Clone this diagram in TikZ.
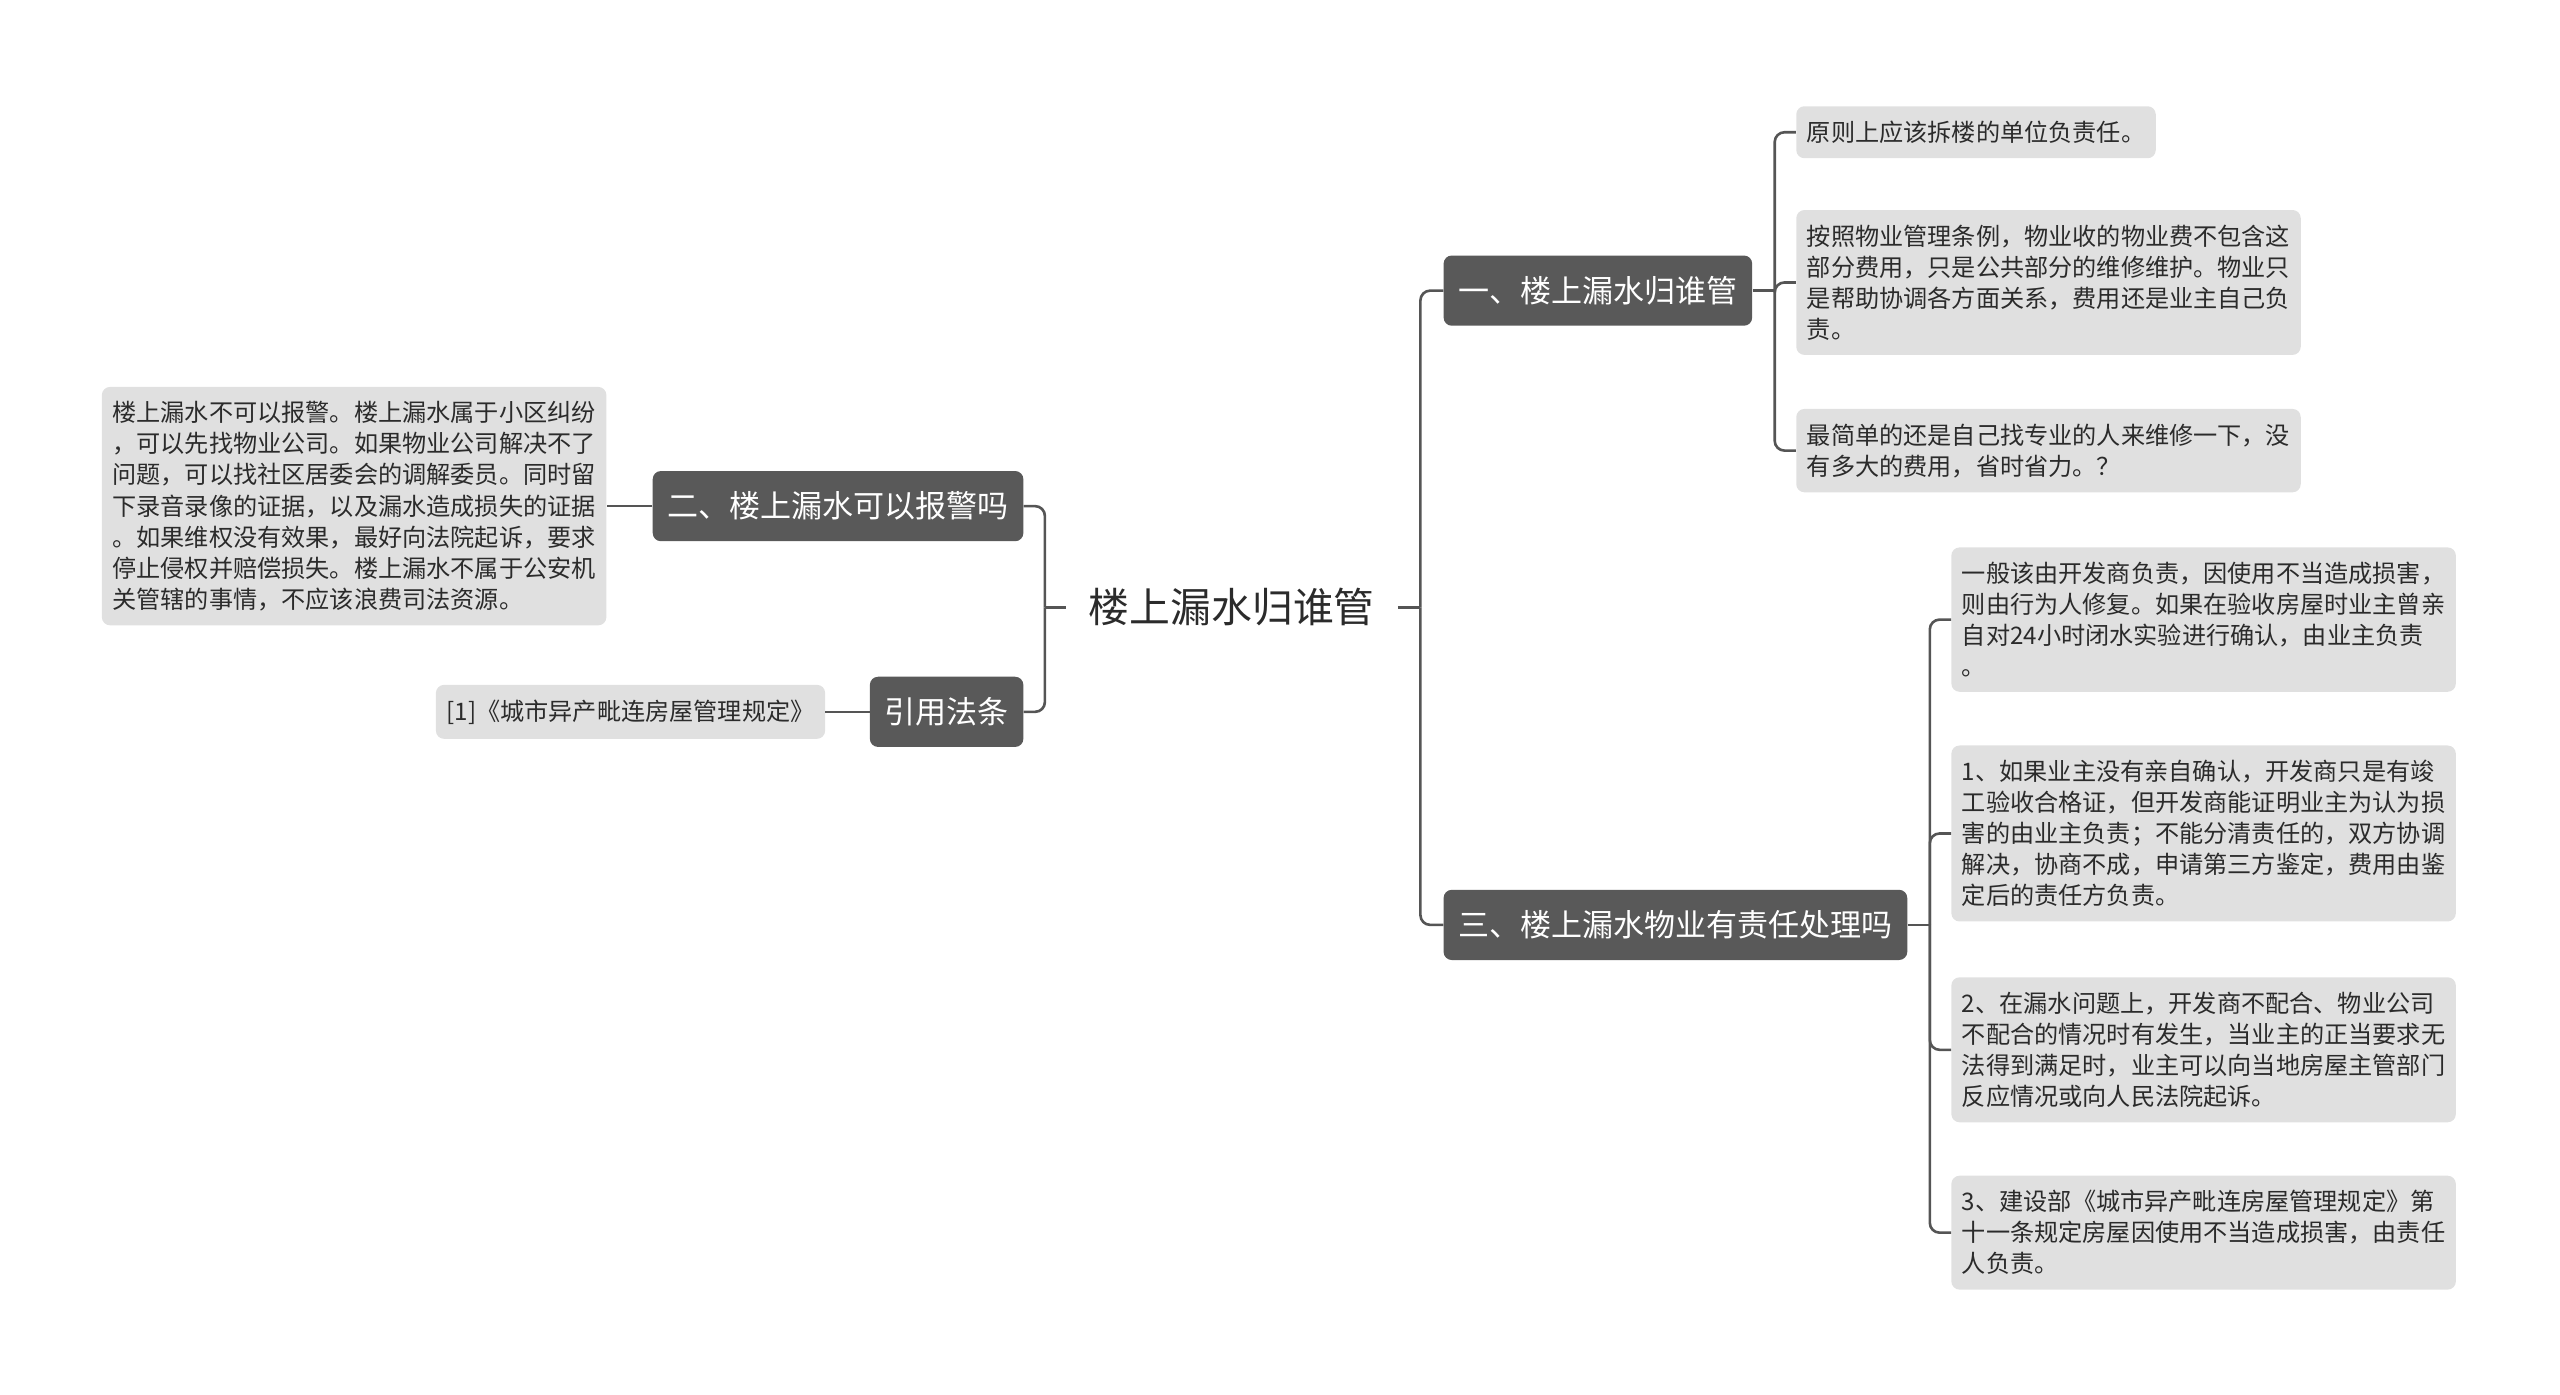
\documentclass[tikz,border=0pt]{standalone}
\usepackage{fontspec}
\setmainfont{Noto Sans CJK SC}
\usetikzlibrary{positioning}
\definecolor{boxdark}{HTML}{595959}
\definecolor{boxpale}{HTML}{E0E0E0}
\definecolor{linegray}{HTML}{555555}
\definecolor{inkgray}{HTML}{2B2B2B}

\begin{document}
\begin{tikzpicture}[x=1pt, y=-1pt,
        darkgrey/.style={rectangle, rounded corners=5pt, fill=boxdark, text=white, font=\fontsize{19}{23}\selectfont, inner xsep=9pt, minimum height=43pt},
        palegrey/.style={rectangle, rounded corners=5pt, fill=boxpale, text=inkgray, font=\fontsize{14.8}{19}\selectfont, align=left, inner xsep=6.5pt, inner ysep=9pt},
        title/.style={text=inkgray, font=\fontsize{25}{30}\selectfont, inner xsep=14pt},
        link/.style={draw=linegray, line width=1.6pt, rounded corners=6pt}
    ]
    \useasboundingbox (0,0) rectangle (1568,854);

    % Centre topic
    \node[title] (root) at (754.5, 372) {楼上漏水归谁管};
    \coordinate (lj) at (640, 372);
    \coordinate (rj) at (870, 372);

    % Left side
    \node[darkgrey, anchor=east] (n2) at (627, 310) {二、楼上漏水可以报警吗};
    \node[darkgrey, anchor=east] (cite) at (627, 436) {引用法条};
    \node[palegrey, left=28pt of n2] (warn) {楼上漏水不可以报警。楼上漏水属于小区纠纷\\，可以先找物业公司。如果物业公司解决不了\\问题，可以找社区居委会的调解委员。同时留\\下录音录像的证据，以及漏水造成损失的证据\\。如果维权没有效果，最好向法院起诉，要求\\停止侵权并赔偿损失。楼上漏水不属于公安机\\关管辖的事情，不应该浪费司法资源。};
    \node[palegrey, left=27pt of cite] (law) {[1]《城市异产毗连房屋管理规定》};

    % Right side
    \node[darkgrey, anchor=west] (n1) at (884, 178) {一、楼上漏水归谁管};
    \node[darkgrey, anchor=west] (n3) at (884, 566.5) {三、楼上漏水物业有责任处理吗};
    \coordinate (j1) at (1087, 178);
    \coordinate (j3) at (1182, 566.5);

    \node[palegrey, anchor=west] (a1) at (1100, 81) {原则上应该拆楼的单位负责任。};
    \node[palegrey, anchor=west] (a2) at (1100, 173) {按照物业管理条例，物业收的物业费不包含这\\部分费用，只是公共部分的维修维护。物业只\\是帮助协调各方面关系，费用还是业主自己负\\责。};
    \node[palegrey, anchor=west] (a3) at (1100, 276) {最简单的还是自己找专业的人来维修一下，没\\有多大的费用，省时省力。？};

    \node[palegrey, anchor=west] (b1) at (1195, 379.5) {一般该由开发商负责，因使用不当造成损害，\\则由行为人修复。如果在验收房屋时业主曾亲\\自对24小时闭水实验进行确认，由业主负责\\。};
    \node[palegrey, anchor=west] (b2) at (1195, 510.5) {1、如果业主没有亲自确认，开发商只是有竣\\工验收合格证，但开发商能证明业主为认为损\\害的由业主负责；不能分清责任的，双方协调\\解决，协商不成，申请第三方鉴定，费用由鉴\\定后的责任方负责。};
    \node[palegrey, anchor=west] (b3) at (1195, 643) {2、在漏水问题上，开发商不配合、物业公司\\不配合的情况时有发生，当业主的正当要求无\\法得到满足时，业主可以向当地房屋主管部门\\反应情况或向人民法院起诉。};
    \node[palegrey, anchor=west] (b4) at (1195, 755) {3、建设部《城市异产毗连房屋管理规定》第\\十一条规定房屋因使用不当造成损害，由责任\\人负责。};

    % Links
    \draw[link] (root.west) -- (lj);
    \draw[link] (lj) |- (n2.east);
    \draw[link] (lj) |- (cite.east);
    \draw[link] (n2.west) -- (warn.east);
    \draw[link] (cite.west) -- (law.east);

    \draw[link] (root.east) -- (rj);
    \draw[link] (rj) |- (n1.west);
    \draw[link] (rj) |- (n3.west);

    \draw[link] (n1.east) -- (j1);
    \foreach \leaf in {a1, a2, a3}
        \draw[link] (j1) |- (\leaf.west);

    \draw[link] (n3.east) -- (j3);
    \foreach \leaf in {b1, b2, b3, b4}
        \draw[link] (j3) |- (\leaf.west);
\end{tikzpicture}
\end{document}
